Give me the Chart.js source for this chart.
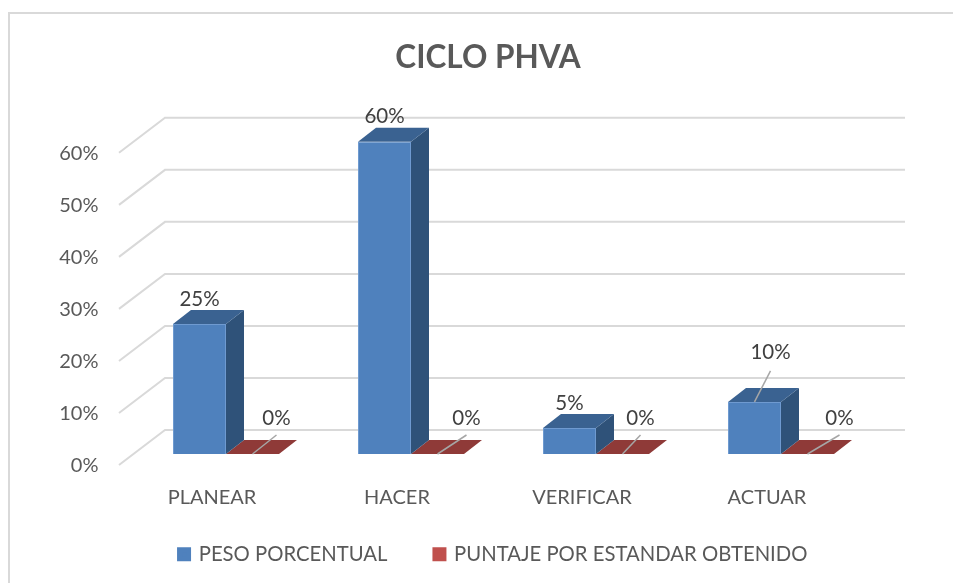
<!DOCTYPE html>
<html>
<head>
<meta charset="utf-8">
<title>CICLO PHVA</title>
<script src="https://cdn.jsdelivr.net/npm/chart.js@4"></script>
<style>
  html, body { margin: 0; padding: 0; background: #fff; }
  #wrap { position: relative; width: 953px; height: 583px; overflow: hidden; }
  #frame { position: absolute; left: 8px; top: 12px; width: 960px; height: 600px; border: 2px solid #d9d9d9; }
  canvas { position: absolute; left: 0; top: 0; }
</style>
</head>
<body>
<div id="wrap">
  <div id="frame"></div>
  <canvas id="phvaChart" width="953" height="583"></canvas>
</div>
<script>
'use strict';

const categories = ['PLANEAR', 'HACER', 'VERIFICAR', 'ACTUAR'];
const pesoPorcentual = [25, 60, 5, 10];
const puntajeObtenido = [0, 0, 0, 0];
const yTicks = [0, 10, 20, 30, 40, 50, 60];

const barFaces = {
  peso: { top: '#3a6291', side: '#2f5279' },
  puntaje: { top: '#8f3a38', side: '#6f2c2b' }
};

// depth of the bars and of the back wall behind them
const barDepth = { x: 18, y: -14 };
const wallDepth = { x: 31.5, y: -24 };
const floorFront = { x: -14.5, y: 11 };

// the 0% labels were dragged by hand in the original, each by its own amount
const zeroLabelShift = [24, 29, 18, 32];

function face(ctx, points, color) {
  ctx.fillStyle = color;
  ctx.beginPath();
  points.forEach(function(p, i) {
    if (i === 0) ctx.moveTo(p[0], p[1]);
    else ctx.lineTo(p[0], p[1]);
  });
  ctx.closePath();
  ctx.fill();
}

function leader(ctx, x1, y1, x2, y2) {
  ctx.strokeStyle = '#a6a6a6';
  ctx.lineWidth = 1.5;
  ctx.beginPath();
  ctx.moveTo(x1, y1);
  ctx.lineTo(x2, y2);
  ctx.stroke();
}

// title and legend are centred on the plot in the original, not on the canvas
const boxShiftPlugin = {
  id: 'boxShift',
  afterLayout(chart) {
    chart.titleBlock.left += 26.25;
    chart.titleBlock.right += 26.25;
    chart.legend.left += 31.75;
    chart.legend.right += 31.75;
    chart.legend.top -= 15.3;
    chart.legend.bottom -= 15.3;
  }
};

const wallPlugin = {
  id: 'wall',
  beforeDatasetsDraw(chart) {
    const ctx = chart.ctx;
    const area = chart.chartArea;
    const y = chart.scales.y;
    ctx.save();
    ctx.strokeStyle = '#d9d9d9';
    ctx.lineWidth = 2;
    for (let tick of yTicks) {
      const py = y.getPixelForValue(tick);
      ctx.beginPath();
      ctx.moveTo(area.left + floorFront.x, py + floorFront.y);
      ctx.lineTo(area.left + wallDepth.x, py + wallDepth.y);
      ctx.lineTo(area.right + wallDepth.x, py + wallDepth.y);
      ctx.stroke();
    }
    ctx.restore();
  }
};

const bars3dPlugin = {
  id: 'bars3d',
  beforeDatasetDraw(chart, args) {
    const ctx = chart.ctx;
    const colors = args.index === 0 ? barFaces.peso : barFaces.puntaje;
    for (let bar of args.meta.data) {
      const left = bar.x - bar.width / 2;
      const right = bar.x + bar.width / 2;
      const d = barDepth;
      face(ctx, [[right, bar.y], [right + d.x, bar.y + d.y], [right + d.x, bar.base + d.y], [right, bar.base]], colors.side);
      face(ctx, [[left, bar.y], [left + d.x, bar.y + d.y], [right + d.x, bar.y + d.y], [right, bar.y]], colors.top);
    }
  }
};

const valueLabelPlugin = {
  id: 'valueLabels',
  afterDatasetsDraw(chart) {
    const ctx = chart.ctx;
    ctx.save();
    ctx.font = '20.5px Lato';
    ctx.textAlign = 'center';
    ctx.textBaseline = 'middle';
    chart.data.datasets.forEach(function(ds, di) {
      chart.getDatasetMeta(di).data.forEach(function(bar, i) {
        const value = ds.data[i];
        let lx = bar.x;
        let ly = bar.y - 25;
        if (value === 0) {
          lx = bar.x + zeroLabelShift[i];
          ly = bar.y - 36;
          leader(ctx, bar.x, bar.y, lx, bar.y - 19);
        } else if (value === 10) {
          lx = bar.x + 16;
          ly = bar.y - 50;
          leader(ctx, bar.x, bar.y, lx, bar.y - 31);
        }
        ctx.fillStyle = '#404040';
        ctx.fillText(value + '%', lx, ly);
      });
    });
    ctx.restore();
  }
};

new Chart(document.getElementById('phvaChart'), {
  type: 'bar',
  data: {
    labels: categories,
    datasets: [{
      label: 'PESO PORCENTUAL',
      data: pesoPorcentual,
      backgroundColor: '#4f81bd',
      borderColor: '#6f9ad0',
      borderWidth: 1
    }, {
      label: 'PUNTAJE POR ESTANDAR OBTENIDO',
      data: puntajeObtenido,
      backgroundColor: '#c0504d'
    }]
  },
  options: {
    responsive: false,
    animation: false,
    layout: { padding: { left: 50, right: 79.5, top: 0, bottom: -6.8 } },
    datasets: { bar: { barPercentage: 1, categoryPercentage: 0.573 } },
    plugins: {
      title: {
        display: true,
        text: 'CICLO PHVA',
        color: '#595959',
        font: { family: 'Lato', size: 31.5, weight: 'bold', lineHeight: 1.2 },
        padding: { top: 39, bottom: 65 }
      },
      legend: {
        position: 'bottom',
        labels: {
          color: '#595959',
          font: { family: 'Lato', size: 20.3 },
          // small box plus thick stroke keeps the swatch 14px but the text closer to it
          boxWidth: 9,
          boxHeight: 9,
          padding: 47.5,
          generateLabels(chart) {
            return Chart.defaults.plugins.legend.labels.generateLabels(chart).map(function(item) {
              item.strokeStyle = item.fillStyle;
              item.lineWidth = 5;
              return item;
            });
          }
        }
      },
      tooltip: { enabled: false }
    },
    scales: {
      x: {
        grid: { display: false },
        border: { display: false },
        afterFit(scale) { scale.height = 58; },
        ticks: {
          color: '#595959',
          font: { family: 'Lato', size: 20 },
          labelOffset: -14,
          padding: 24,
          maxRotation: 0,
          autoSkip: false
        }
      },
      y: {
        min: 0,
        max: 60,
        grid: { display: false },
        border: { display: false },
        afterFit(scale) { scale.width = 83.5; },
        afterBuildTicks(scale) { scale.ticks = yTicks.map(function(v) { return { value: v }; }); },
        ticks: {
          color: '#595959',
          font: { family: 'Lato', size: 20 },
          labelOffset: 12,
          padding: 27,
          callback: function(v) { return v + '%'; }
        }
      }
    }
  },
  plugins: [boxShiftPlugin, wallPlugin, bars3dPlugin, valueLabelPlugin]
});
</script>
</body>
</html>
